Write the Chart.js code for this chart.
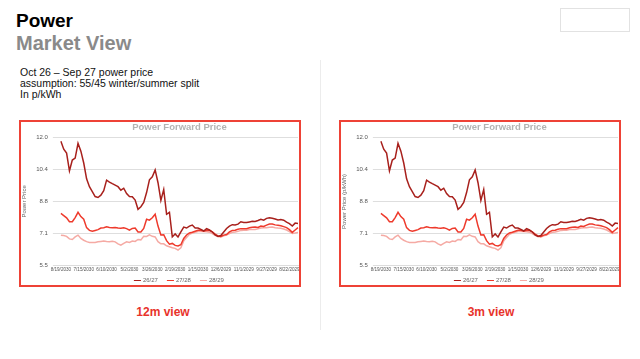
<!DOCTYPE html>
<html>
<head>
<meta charset="utf-8">
<script src="https://cdn.jsdelivr.net/npm/chart.js@4/dist/chart.umd.min.js"></script>
<style>
  body { margin: 0; width: 640px; height: 359px; background: #fff; position: relative; overflow: hidden;
         font-family: "Liberation Sans", Arial, sans-serif; }
  .h1 { position: absolute; left: 16px; top: 11px; font-size: 19px; font-weight: bold; color: #000; line-height: 20px; }
  .h2 { position: absolute; left: 16px; top: 33px; font-size: 20px; font-weight: bold; color: #8a8a8a; line-height: 20px; }
  .sub { position: absolute; left: 20px; top: 67px; font-size: 10.5px; line-height: 11px; color: #111; }
  .topbox { position: absolute; left: 560px; top: 8px; width: 68px; height: 22px; border: 1px solid #e2e2e2; }
  .sep { position: absolute; left: 320px; top: 60px; width: 1px; height: 270px; background: #ececec; }
  .box { position: absolute; top: 120px; width: 282px; height: 167px; box-sizing: border-box;
         border: 2px solid #ee4236; }
  .cap { position: absolute; top: 305px; width: 120px; text-align: center; font-size: 12px; font-weight: bold; color: #e8332b; }
</style>
</head>
<body>
<div class="h1">Power</div>
<div class="h2">Market View</div>
<div class="sub">Oct 26 – Sep 27 power price<br>assumption: 55/45 winter/summer split<br>In p/kWh</div>
<div class="topbox"></div>
<div class="sep"></div>
<div class="box" style="left:19px"><canvas id="chartLeft"></canvas></div>
<div class="box" style="left:339px"><canvas id="chartRight"></canvas></div>
<div class="cap" style="left:103px">12m view</div>
<div class="cap" style="left:431px">3m view</div>

<script>
// tick labels shown on the x axis (one every 8 points)
var tickLabels = ['8/19/2030', '7/15/2030', '6/10/2030', '5/2/2030', '3/26/2030', '2/19/2030',
  '1/15/2030', '12/6/2029', '11/1/2029', '9/27/2029', '8/22/2029'];
var seriesNames = ['26/27', '27/28', '28/29'];

var price2627 = [11.8, 11.4, 11.2, 10.3, 10.85, 10.95, 11.7, 11.3, 10.7, 9.9,
  9.5, 9.25, 9.0, 8.95, 9.07, 9.3, 9.83, 9.73, 9.65, 9.58,
  9.5, 9.32, 9.42, 9.15, 9.0, 8.99, 8.82, 8.35, 8.48, 8.7,
  9.2, 9.85, 10.0, 10.35, 9.7, 8.8, 9.35, 8.1, 8.2, 6.95,
  7.1, 6.95, 7.2, 7.45, 7.4, 7.5, 7.55, 7.4, 7.4, 7.33,
  7.25, 7.37, 7.3, 7.2, 7.05, 6.97, 7.02, 7.2, 7.38, 7.5,
  7.57, 7.56, 7.6, 7.72, 7.68, 7.68, 7.71, 7.74, 7.73, 7.78,
  7.84, 7.8, 7.89, 7.92, 7.9, 7.86, 7.81, 7.83, 7.8, 7.7,
  7.62, 7.5, 7.65, 7.63];

var price2728 = [8.14, 8.03, 7.92, 7.72, 7.72, 7.93, 8.2, 7.98, 7.85, 7.42,
  7.28, 7.24, 7.28, 7.32, 7.4, 7.42, 7.46, 7.43, 7.42, 7.43,
  7.4, 7.39, 7.41, 7.37, 7.29, 7.38, 7.4, 7.2, 7.2, 7.38,
  7.85, 7.8, 7.92, 8.1, 7.5, 7.05, 7.06, 6.76, 6.58, 6.62,
  6.52, 6.49, 6.55, 6.87, 7.05, 7.15, 7.19, 7.24, 7.29, 7.29,
  7.25, 7.27, 7.29, 7.21, 7.09, 7.0, 6.97, 7.04, 7.07, 7.2,
  7.28, 7.29, 7.34, 7.37, 7.36, 7.37, 7.41, 7.44, 7.45, 7.43,
  7.5, 7.48, 7.55, 7.6, 7.6, 7.56, 7.54, 7.52, 7.47, 7.42,
  7.32, 7.18, 7.3, 7.42];

var price2829 = [7.04, 7.02, 6.98, 6.85, 6.82, 6.95, 7.04, 6.87, 6.78, 6.71,
  6.67, 6.67, 6.67, 6.7, 6.72, 6.74, 6.72, 6.71, 6.73, 6.7,
  6.6, 6.53, 6.62, 6.7, 6.67, 6.74, 6.72, 6.82, 6.8, 6.98,
  6.97, 7.05, 6.98, 6.95, 6.71, 6.6, 6.6, 6.5, 6.45, 6.4,
  6.37, 6.28, 6.4, 6.75, 6.92, 7.08, 7.15, 7.19, 7.22, 7.24,
  7.22, 7.21, 7.19, 7.12, 7.03, 6.97, 6.95, 7.01, 7.04, 7.12,
  7.18, 7.2, 7.23, 7.28, 7.29, 7.29, 7.32, 7.33, 7.33, 7.36,
  7.4, 7.41, 7.42, 7.44, 7.45, 7.42, 7.4, 7.39, 7.35, 7.3,
  7.22, 7.13, 7.15, 7.18];

var yTicks = [5.5, 7.125, 8.75, 10.375, 12.0];

// one label per point, only every 8th one carries a date
var labels = price2627.map(function (v, i) {
  return i % 8 === 0 ? (tickLabels[i / 8] || '') : '';
});

var FONT = '"Liberation Sans", Arial, sans-serif';

// keep the wide gaps between legend items but take little room from the plot
var tightLegend = {
  id: 'tightLegend',
  beforeInit: function (chart) {
    if (!chart.legend) return;
    var fit = chart.legend.fit;
    chart.legend.fit = function () {
      fit.call(this);
      this.height = 12;
    };
  },
  afterLayout: function (chart) {
    var lg = chart.legend;
    if (!lg) return;
    lg.top = chart.height - 17.5;
    lg.bottom = chart.height + 6;
    lg.height = lg.bottom - lg.top;
  }
};

function makeChart(id, yTitle) {
  var ctx = document.getElementById(id).getContext('2d');
  return new Chart(ctx, {
    type: 'line',
    data: {
      labels: labels,
      datasets: [
        { label: seriesNames[0], data: price2627, borderColor: '#a8201c', backgroundColor: '#a8201c' },
        { label: seriesNames[1], data: price2728, borderColor: '#ee3a2c', backgroundColor: '#ee3a2c' },
        { label: seriesNames[2], data: price2829, borderColor: '#f5aaa4', backgroundColor: '#f5aaa4' }
      ]
    },
    plugins: [tightLegend],
    options: {
      responsive: true,
      maintainAspectRatio: false,
      animation: false,
      elements: {
        point: { radius: 0 },
        line: { borderWidth: 1.5, tension: 0 }
      },
      layout: { padding: 0 },
      scales: {
        x: {
          grid: { display: false, drawTicks: false },
          border: { color: '#dcdcdc' },
          ticks: {
            autoSkip: false, maxRotation: 0, minRotation: 0, padding: 1,
            color: '#555', font: { family: FONT, size: 4.6 }
          }
        },
        y: {
          min: yTicks[0],
          max: yTicks[yTicks.length - 1],
          afterBuildTicks: function (axis) {
            axis.ticks = yTicks.map(function (v) { return { value: v }; });
          },
          grid: { color: '#dedede' },
          border: { display: false },
          ticks: {
            padding: 5, color: '#555', font: { family: FONT, size: 6 },
            callback: function (v) { return v.toFixed(1); }
          },
          title: { display: true, text: yTitle, color: '#666', font: { family: FONT, size: 6 }, padding: { top: 0, bottom: 3 } }
        }
      },
      plugins: {
        title: {
          display: true, fullSize: false, text: 'Power Forward Price', color: '#b3b3b3',
          font: { family: FONT, size: 9.5, weight: 'bold' }, padding: { top: 0, bottom: 4 }
        },
        legend: {
          position: 'bottom', fullSize: false,
          labels: {
            usePointStyle: true, pointStyle: 'line', boxWidth: 5, boxHeight: 5, padding: 10,
            color: '#666', font: { family: FONT, size: 6 }
          }
        },
        tooltip: { enabled: false }
      }
    }
  });
}

makeChart('chartLeft', 'Power Price');
makeChart('chartRight', 'Power Price (p/kWh)');
</script>
</body>
</html>
